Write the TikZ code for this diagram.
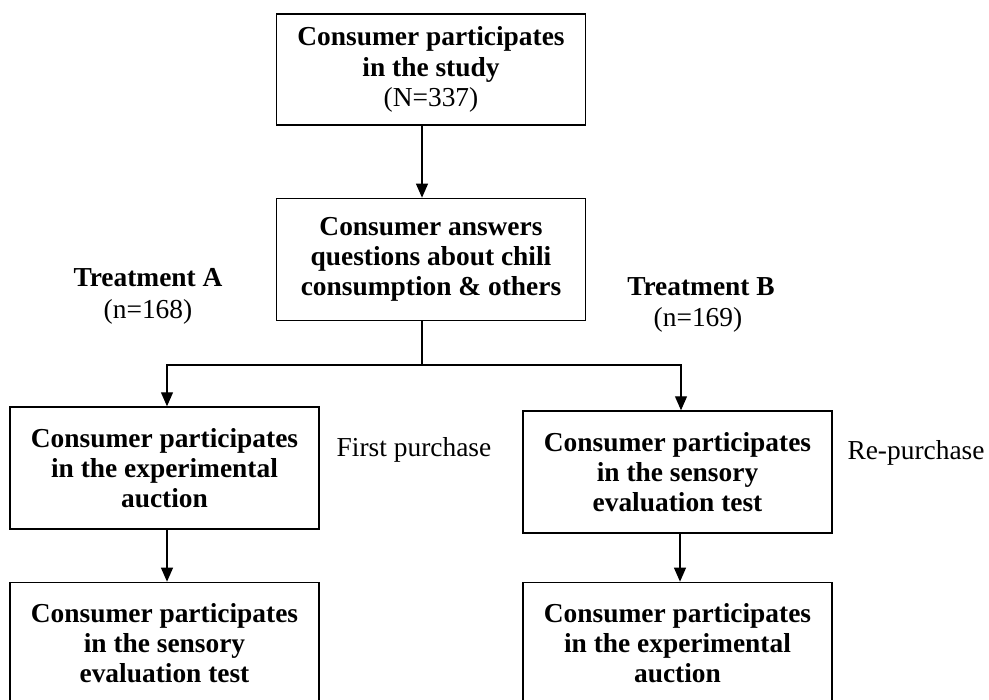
\documentclass[tikz,border=0pt]{standalone}
\usepackage{fontspec}
\setmainfont{Liberation Serif}
\usepackage{tikz}
\usetikzlibrary{arrows.meta, positioning}

\begin{document}
\begin{tikzpicture}[
    x=0.02cm, y=-0.02cm,
    box/.style={draw, line width=0.8pt, minimum width=6.18cm, minimum height=2.44cm, align=center, inner sep=2pt, font=\fontsize{15.6}{17.2}\selectfont\bfseries},
    lbl/.style={align=center, inner sep=1pt, font=\fontsize{15.6}{17.2}\selectfont},
    arrow/.style={-{Triangle[length=8pt, width=6.8pt]}, line width=0.8pt},
]
\clip (0,0) rectangle (989,699);

\node[box, minimum height=2.22cm] (study) at (431,69.5) {Consumer participates\\in the study\\{\mdseries (N=337)}};
\node[box, below=1.44cm of study] (ask) {Consumer answers\\questions about chili\\consumption \& others};

\node[box] (auctA) at (164.5,468) {Consumer participates\\in the experimental\\auction};
\node[box, below=1.04cm of auctA] (sensA) {Consumer participates\\in the sensory\\evaluation test};
\node[box] (sensB) at (677.5,472) {Consumer participates\\in the sensory\\evaluation test};
\node[box, below=0.96cm of sensB] (auctB) {Consumer participates\\in the experimental\\auction};

\node[lbl] (trtA) at (148,278) {\textbf{Treatment A}};
\node[lbl] (nA) at (148,312) {(n=168)};
\node[lbl] (trtB) at (701,287) {\textbf{Treatment B}};
\node[lbl] (nB) at (698,320) {(n=169)};
\node[lbl] (first) at (414,450) {First purchase};
\node[lbl] (repur) at (916,453) {Re-purchase};

\draw[arrow] ([xshift=-0.18cm]study.south) -- ([xshift=-0.18cm]ask.north);
\draw[line width=0.8pt] ([xshift=-0.18cm]ask.south) -- ++(0pt,-0.88cm) coordinate (split);
\draw[arrow] (split) -| ([xshift=0.05cm]auctA.north);
\draw[arrow] (split) -| ([xshift=0.07cm]sensB.north);
\draw[arrow] ([xshift=0.05cm]auctA.south) -- ([xshift=0.05cm]sensA.north);
\draw[arrow] ([xshift=0.05cm]sensB.south) -- ([xshift=0.05cm]auctB.north);
\end{tikzpicture}
\end{document}
